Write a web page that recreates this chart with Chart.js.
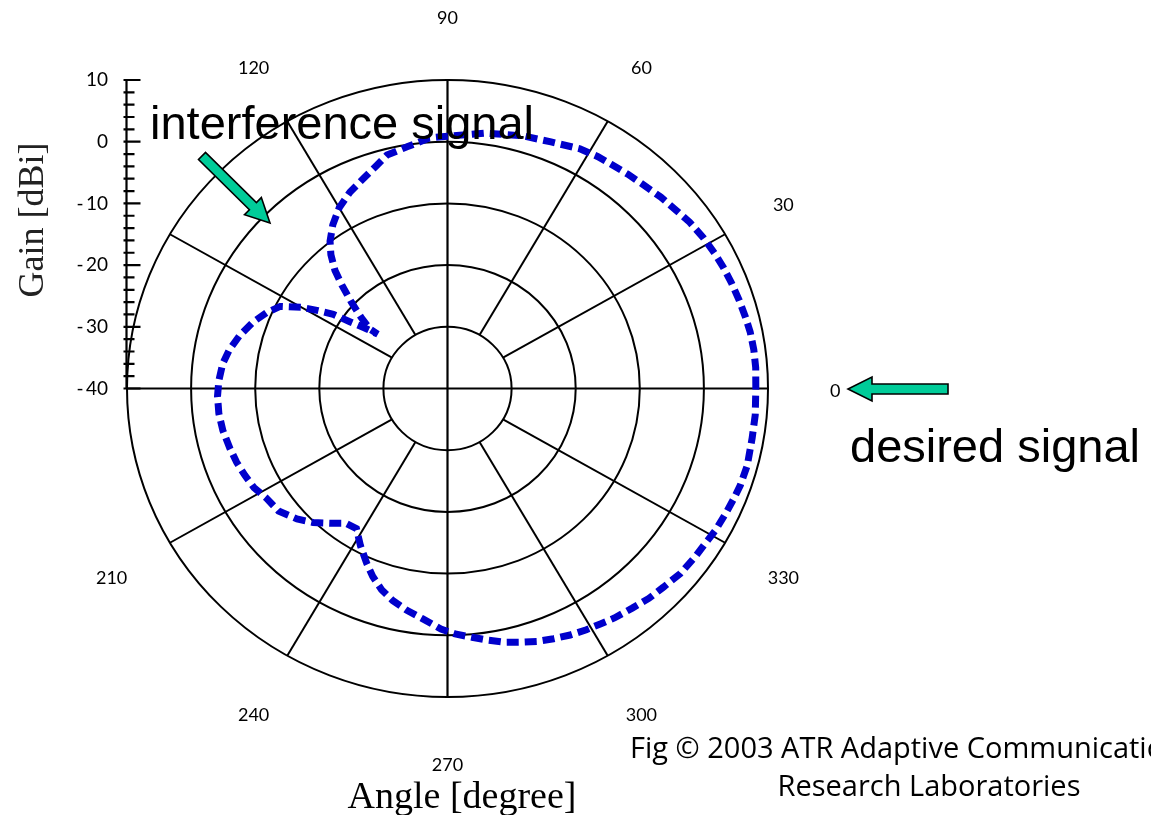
<!DOCTYPE html>
<html>
<head>
<meta charset="utf-8">
<title>Gain pattern</title>
<script src="https://cdn.jsdelivr.net/npm/chart.js@4.4.0/dist/chart.umd.min.js"></script>
<style>
    html, body { margin: 0; padding: 0; background: #fff; }
    #wrap { width: 1151px; height: 815px; }
</style>
</head>
<body>
<div id="wrap"><canvas id="patternChart"></canvas></div>
<script>
// measured pattern: angle [degree] and gain [dBi]
let angles = [0, 4, 7.5, 11, 14, 17.5, 21, 24.5, 27.5, 31.5, 35.5, 39, 43, 47, 51, 55, 58, 62, 68, 74, 82,
    90, 94, 99, 104, 107, 111, 115.5, 120, 124, 127.5, 130, 132.5, 134.5, 137, 139.5, 141.5, 141,
    142.8, 144.6, 146, 148, 150, 153, 156.5, 160.5, 165, 169.5, 173.5, 178,
    182, 186.5, 191, 196, 200, 204, 208, 212, 217, 222, 226, 230, 234, 238, 242, 246, 249, 252.5, 256, 260, 264, 268.5,
    271.7, 275.4, 278.9, 282.3, 285.7, 288.8, 292.2, 295.6, 299, 302, 305, 309, 312.7, 316.3, 320.5, 324.8,
    328, 331.2, 335, 338.2, 341.1, 345.1, 350.4, 354.9, 360];
let gains = [8.1, 8.2, 8.2, 8.1, 7.9, 7.7, 7.5, 7.3, 7.1, 6.8, 6.4, 5.9, 5.5, 5.0, 4.7, 4.4, 4.3, 4.0, 3.1, 2.6, 1.8,
    0.9, 0.7, -0.3, -1.0, -2.2, -3.5, -4.7, -6.2, -8.0, -9.9, -11.7, -14.0, -16.5, -19.5, -22.3, -24.6, -26.0,
    -23.8, -21.3, -18.5, -16.2, -13.7, -10.7, -9.2, -7.8, -6.5, -5.4, -4.7, -4.3,
    -4.1, -4.1, -4.3, -4.7, -5.0, -5.4, -5.8, -6.6, -7.0, -8.4, -9.8, -11.5, -13.0, -13.2, -11.1, -9.0, -7.4, -5.8, -4.6, -3.5, -2.5, -1.0,
    -0.2, 0.5, 1.3, 2.1, 2.7, 3.3, 3.8, 4.3, 4.7, 5.0, 5.4, 5.8, 6.3, 6.6, 7.1, 7.3,
    7.4, 7.7, 7.9, 8.1, 8.3, 8.4, 8.2, 8.2, 8.1];

// polar grid
let rMin = -40;
let rMax = 10;
let rings = [-30, -20, -10, 0, 10];
let spokes = [30, 60, 120, 150, 210, 240, 300, 330];
let angleTicks = [0, 30, 60, 90, 120, 210, 240, 270, 300, 330];
let gainTicks = [-40, -30, -20, -10, 0, 10];

let span = rMax - rMin;

function toXY(a, g) {
    let r = g - rMin;
    let t = a * Math.PI / 180;
    return { x: r * Math.cos(t), y: r * Math.sin(t) };
}

let points = angles.map((a, i) => toXY(a, gains[i]));

function px(x, y, r, a) {
    let t = a * Math.PI / 180;
    return [x.getPixelForValue(r * Math.cos(t)), y.getPixelForValue(r * Math.sin(t))];
}

function drawArrow(ctx, x0, y0, x1, y1) {
    let len = Math.hypot(x1 - x0, y1 - y0);
    ctx.save();
    ctx.translate(x1, y1);
    ctx.rotate(Math.atan2(y1 - y0, x1 - x0));
    ctx.beginPath();
    ctx.moveTo(0, 0);
    ctx.lineTo(-24, -12);
    ctx.lineTo(-24, -5);
    ctx.lineTo(-len, -5);
    ctx.lineTo(-len, 5);
    ctx.lineTo(-24, 5);
    ctx.lineTo(-24, 12);
    ctx.closePath();
    ctx.fillStyle = '#00cc99';
    ctx.fill();
    ctx.strokeStyle = '#000';
    ctx.lineWidth = 1.6;
    ctx.stroke();
    ctx.restore();
}

const polarGrid = {
    id: 'polarGrid',
    beforeDatasetsDraw(chart) {
        const { ctx, scales: { x, y } } = chart;
        const cx = x.getPixelForValue(0);
        const cy = y.getPixelForValue(0);
        ctx.save();
        ctx.strokeStyle = '#000';
        ctx.lineWidth = 2;
        rings.forEach(g => {
            let r = g - rMin;
            ctx.beginPath();
            ctx.ellipse(cx, cy, x.getPixelForValue(r) - cx, cy - y.getPixelForValue(r), 0, 0, Math.PI * 2);
            ctx.stroke();
        });
        spokes.forEach(a => {
            let p0 = px(x, y, rings[0] - rMin, a);
            let p1 = px(x, y, span, a);
            ctx.beginPath();
            ctx.moveTo(p0[0], p0[1]);
            ctx.lineTo(p1[0], p1[1]);
            ctx.stroke();
        });
        ctx.lineWidth = 2.2;
        ctx.beginPath();
        ctx.moveTo(x.getPixelForValue(-span), cy);
        ctx.lineTo(x.getPixelForValue(span), cy);
        ctx.moveTo(cx, y.getPixelForValue(span));
        ctx.lineTo(cx, y.getPixelForValue(-span));
        ctx.stroke();
        ctx.restore();
    },
    afterDraw(chart) {
        const { ctx, scales: { x, y } } = chart;
        const ax = chart.chartArea.left - 0.5;
        ctx.save();

        // gain axis on the left
        ctx.strokeStyle = '#000';
        ctx.lineWidth = 2.2;
        ctx.beginPath();
        ctx.moveTo(ax, y.getPixelForValue(span) - 1);
        ctx.lineTo(ax, y.getPixelForValue(0));
        y.ticks.forEach(t => {
            if (t.value < 0) return;
            let py = y.getPixelForValue(t.value);
            let len = gainTicks.includes(t.value + rMin) ? 14 : 8;
            ctx.moveTo(ax - 3, py);
            ctx.lineTo(ax + len, py);
        });
        ctx.stroke();

        // angle labels
        ctx.fillStyle = '#000';
        ctx.font = '18px Lato, "Liberation Sans", sans-serif';
        ctx.textAlign = 'center';
        ctx.textBaseline = 'middle';
        angleTicks.forEach(a => {
            let p = px(x, y, 60.5, a);
            ctx.fillText(String(a), p[0], p[1] + 3);
        });

        // annotations
        ctx.textAlign = 'left';
        ctx.textBaseline = 'alphabetic';
        ctx.font = '47px "Liberation Sans", Arial, sans-serif';
        ctx.fillText('interference signal', 150, 139);
        ctx.fillText('desired signal', 850, 462);

        ctx.font = '29px "Open Sans", "DejaVu Sans", sans-serif';
        ctx.fillText('Fig \u00A9 2003 ATR Adaptive Communications', 630, 758);
        ctx.textAlign = 'center';
        ctx.fillText('Research Laboratories', 929, 796);

        ctx.font = '38px "Liberation Serif", "Times New Roman", serif';
        ctx.fillText('Angle [degree]', 462, 808);

        ctx.save();
        ctx.translate(34, 220);
        ctx.rotate(-Math.PI / 2);
        ctx.fillStyle = '#222';
        ctx.font = '36px "Liberation Serif", "Times New Roman", serif';
        ctx.textBaseline = 'middle';
        ctx.fillText('Gain [dBi]', 0, 0);
        ctx.restore();

        drawArrow(ctx, 202, 156, 270, 223);
        drawArrow(ctx, 948, 389, 848, 389);

        ctx.restore();
    }
};

let ctx = document.getElementById('patternChart').getContext('2d');

new Chart(ctx, {
    type: 'scatter',
    data: {
        datasets: [{
            label: 'Gain',
            data: points,
            showLine: true,
            borderColor: '#0000cc',
            borderWidth: 7,
            borderDash: [12, 6],
            pointRadius: 0,
            fill: false,
            tension: 0
        }]
    },
    options: {
        responsive: true,
        maintainAspectRatio: false,
        animation: false,
        layout: {
            padding: { left: 57, right: 383, top: 80, bottom: 118 }
        },
        plugins: {
            legend: { display: false },
            tooltip: { enabled: false }
        },
        scales: {
            x: {
                type: 'linear',
                min: -span,
                max: span,
                display: false
            },
            y: {
                type: 'linear',
                position: 'left',
                min: -span,
                max: span,
                grid: { display: false, drawTicks: false },
                border: { display: false },
                ticks: {
                    stepSize: 2,
                    autoSkip: false,
                    padding: 19,
                    color: '#000',
                    font: { family: 'Lato', size: 19 },
                    callback: v => {
                        if (v < 0 || v % 10 !== 0) return '';
                        let g = v + rMin;
                        return g < 0 ? '-\u2009' + Math.abs(g) : String(g);
                    }
                },
                afterFit: scale => { scale.width = 70; }
            }
        }
    },
    plugins: [polarGrid]
});
</script>
</body>
</html>
